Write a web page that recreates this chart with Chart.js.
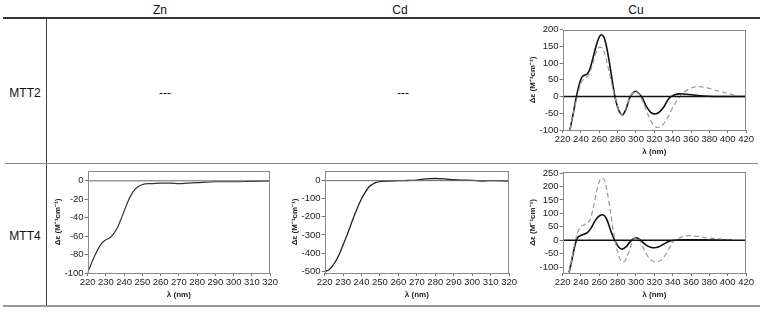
<!DOCTYPE html>
<html>
<head>
<meta charset="utf-8">
<script src="https://cdn.jsdelivr.net/npm/chart.js@4.4.0/dist/chart.umd.min.js"></script>
<style>
body { margin: 0; background: #fff; font-family: 'Liberation Sans', Arial, sans-serif; }
#page { position: relative; width: 763px; height: 312px; overflow: hidden; }
.lbl { position: absolute; font-size: 12px; color: #111; transform: translate(-50%, -50%); white-space: nowrap; }
.rule { position: absolute; }
canvas { position: absolute; }
</style>
</head>
<body>
<div id="page">
    <div class="lbl" style="left:160px;top:10px">Zn</div>
    <div class="lbl" style="left:400px;top:10px">Cd</div>
    <div class="lbl" style="left:636px;top:10px">Cu</div>
    <div class="lbl" style="left:25px;top:93px">MTT2</div>
    <div class="lbl" style="left:25px;top:236px">MTT4</div>
    <div class="lbl" style="left:165px;top:93px">---</div>
    <div class="lbl" style="left:403px;top:93px">---</div>

    <div class="rule" style="left:3px;top:17px;width:757px;height:2px;background:#333"></div>
    <div class="rule" style="left:46px;top:19px;width:1px;height:288px;background:#444"></div>
    <div class="rule" style="left:5px;top:163px;width:753px;height:1px;background:#888"></div>
    <div class="rule" style="left:3px;top:305px;width:757px;height:2px;background:#999"></div>

    <canvas id="cu-mtt2" width="227" height="134" style="left:528px;top:23px"></canvas>
    <canvas id="zn-mtt4" width="226" height="136" style="left:53px;top:164px"></canvas>
    <canvas id="cd-mtt4" width="228" height="136" style="left:290px;top:164px"></canvas>
    <canvas id="cu-mtt4" width="227" height="135" style="left:528px;top:165px"></canvas>
</div>

<script>
// MTT2 + Cu
const mtt2CuSolidX = [228, 232, 235, 238, 241, 244, 247, 250, 254, 258, 262, 265, 268, 272, 276, 280, 285, 289, 293, 297, 300, 303, 307, 311, 316, 321, 326, 331, 336, 341, 348, 355, 365, 380, 400, 420];
const mtt2CuSolidY = [-100, -45, 0, 35, 58, 64, 68, 85, 125, 165, 185, 178, 148, 85, 15, -32, -55, -38, -5, 12, 16, 10, -5, -28, -47, -52, -45, -28, -5, 4, 8, 7, 4, 1, 0, 0];
const mtt2CuDashX = [228, 232, 236, 240, 244, 248, 252, 256, 260, 263, 267, 271, 276, 280, 284, 288, 293, 297, 300, 304, 309, 314, 319, 324, 329, 335, 341, 347, 352, 358, 366, 375, 385, 395, 405, 412];
const mtt2CuDashY = [-100, -45, 0, 40, 55, 62, 90, 128, 148, 145, 118, 70, 10, -30, -55, -40, -5, 12, 15, 5, -25, -60, -85, -93, -85, -60, -28, -3, 12, 23, 30, 28, 20, 13, 6, 0];

// MTT4 + Zn
const mtt4ZnX = [220, 222, 224, 226, 228, 230, 232, 234, 236, 238, 240, 242, 244, 246, 248, 250, 255, 260, 265, 270, 275, 280, 290, 300, 310, 320];
const mtt4ZnY = [-100, -90, -81, -73, -67, -64, -62, -58, -52, -43, -33, -23, -15, -9, -6, -4, -3, -2.5, -2.5, -3, -2.5, -2, -1, -1, -0.5, 0];

// MTT4 + Cd
const mtt4CdX = [220, 222, 224, 226, 228, 230, 232, 234, 236, 238, 240, 242, 244, 246, 248, 250, 255, 260, 265, 270, 275, 280, 285, 290, 295, 300, 305, 310, 320];
const mtt4CdY = [-500, -495, -475, -445, -405, -355, -305, -250, -195, -145, -100, -65, -35, -20, -10, -5, -2, 0, 1, 3, 10, 12, 10, 5, 3, 2, -2, 0, -2];

// MTT4 + Cu
const mtt4CuSolidX = [227, 230, 233, 236, 239, 243, 247, 251, 255, 259, 263, 266, 269, 273, 277, 281, 285, 289, 293, 297, 300, 303, 307, 311, 316, 320, 325, 330, 335, 340, 350, 365, 380, 405];
const mtt4CuSolidY = [-120, -75, -25, 8, 16, 22, 28, 45, 70, 88, 95, 90, 70, 30, -2, -25, -33, -25, -8, 5, 9, 5, -6, -18, -26, -28, -24, -15, -6, -1, 2, 2, 1, 0];
const mtt4CuDashX = [227, 230, 233, 236, 239, 243, 247, 250, 254, 258, 262, 265, 268, 272, 276, 280, 284, 287, 291, 295, 298, 300, 303, 307, 312, 317, 322, 327, 332, 337, 341, 347, 353, 358, 365, 375, 390, 405];
const mtt4CuDashY = [-120, -70, -15, 25, 48, 57, 65, 75, 130, 195, 230, 228, 190, 110, 20, -45, -78, -80, -55, -15, 8, 12, 5, -20, -55, -75, -80, -75, -55, -25, -3, 8, 15, 17, 15, 10, 5, 0];

const yTitle = 'Δε (M⁻¹cm⁻¹)';
const tickFont = { family: "'Liberation Sans', Arial, sans-serif", size: 9.5 };

const toPoints = function(xs, ys){
    return xs.map((x, i) => ({ x, y: ys[i] }));
};

const boxPlugin = {
    id: 'box',
    afterDraw(chart){
        const a = chart.chartArea;
        const ctx = chart.ctx;
        ctx.save();
        ctx.strokeStyle = '#8a8a8a';
        ctx.lineWidth = 1;
        ctx.strokeRect(Math.round(a.left) + 0.5, Math.round(a.top) + 0.5, Math.round(a.width) - 1, Math.round(a.height));
        ctx.restore();
    }
};

const makeChart = function(id, cfg){
    let datasets = [{
        data: [{ x: cfg.xMin, y: 0 }, { x: cfg.xMax, y: 0 }],
        borderColor: cfg.zeroColor,
        borderWidth: cfg.zeroWidth,
        pointRadius: 0
    }];

    for (const s of cfg.series) {
        datasets.push({
            data: toPoints(s.x, s.y),
            borderColor: s.color,
            borderWidth: s.width,
            borderDash: s.dash || [],
            pointRadius: 0,
            cubicInterpolationMode: 'monotone'
        });
    }

    new Chart(document.getElementById(id), {
        type: 'line',
        data: { datasets },
        options: {
            responsive: false,
            animation: false,
            layout: { padding: { top: 3, right: 4, left: 0, bottom: 0 } },
            plugins: { legend: { display: false }, tooltip: { enabled: false } },
            scales: {
                x: {
                    type: 'linear',
                    min: cfg.xMin,
                    max: cfg.xMax,
                    border: { display: false },
                    grid: { drawOnChartArea: false, drawTicks: true, tickLength: 3, color: '#777' },
                    ticks: { stepSize: cfg.xStep, font: tickFont, color: '#222', padding: 1, maxRotation: 0, autoSkip: false },
                    title: { display: true, text: 'λ (nm)', font: { size: 8, weight: 'bold' }, color: '#222', padding: { top: 1, bottom: 0 } }
                },
                y: {
                    min: cfg.yMin,
                    max: cfg.yMax,
                    border: { display: false },
                    grid: { drawOnChartArea: false, drawTicks: true, tickLength: 3, color: '#777' },
                    ticks: { font: tickFont, color: '#222', padding: 1 },
                    afterBuildTicks: function(scale){
                        let ticks = [];
                        for (let v = Math.ceil(cfg.yMin / cfg.yStep) * cfg.yStep; v <= cfg.yMax; v += cfg.yStep) {
                            ticks.push({ value: v });
                        }
                        scale.ticks = ticks;
                    },
                    title: { display: true, text: yTitle, font: { size: 8, weight: 'bold' }, color: '#222', padding: { top: 0, bottom: 1 } }
                }
            }
        },
        plugins: [boxPlugin]
    });
};

makeChart('cu-mtt2', {
    xMin: 220, xMax: 420, xStep: 20, yMin: -100, yMax: 200, yStep: 50,
    zeroColor: '#111', zeroWidth: 1.5,
    series: [
        { x: mtt2CuDashX, y: mtt2CuDashY, color: '#9a9a9a', width: 1.2, dash: [5, 3] },
        { x: mtt2CuSolidX, y: mtt2CuSolidY, color: '#111', width: 1.6 }
    ]
});

makeChart('zn-mtt4', {
    xMin: 220, xMax: 320, xStep: 10, yMin: -100, yMax: 11, yStep: 20,
    zeroColor: '#666', zeroWidth: 1,
    series: [
        { x: mtt4ZnX, y: mtt4ZnY, color: '#333', width: 1.2 }
    ]
});

makeChart('cd-mtt4', {
    xMin: 220, xMax: 320, xStep: 10, yMin: -510, yMax: 55, yStep: 100,
    zeroColor: '#666', zeroWidth: 1,
    series: [
        { x: mtt4CdX, y: mtt4CdY, color: '#222', width: 1.3 }
    ]
});

makeChart('cu-mtt4', {
    xMin: 220, xMax: 420, xStep: 20, yMin: -122, yMax: 255, yStep: 50,
    zeroColor: '#111', zeroWidth: 1.5,
    series: [
        { x: mtt4CuDashX, y: mtt4CuDashY, color: '#9a9a9a', width: 1.2, dash: [5, 3] },
        { x: mtt4CuSolidX, y: mtt4CuSolidY, color: '#111', width: 1.6 }
    ]
});
</script>
</body>
</html>
